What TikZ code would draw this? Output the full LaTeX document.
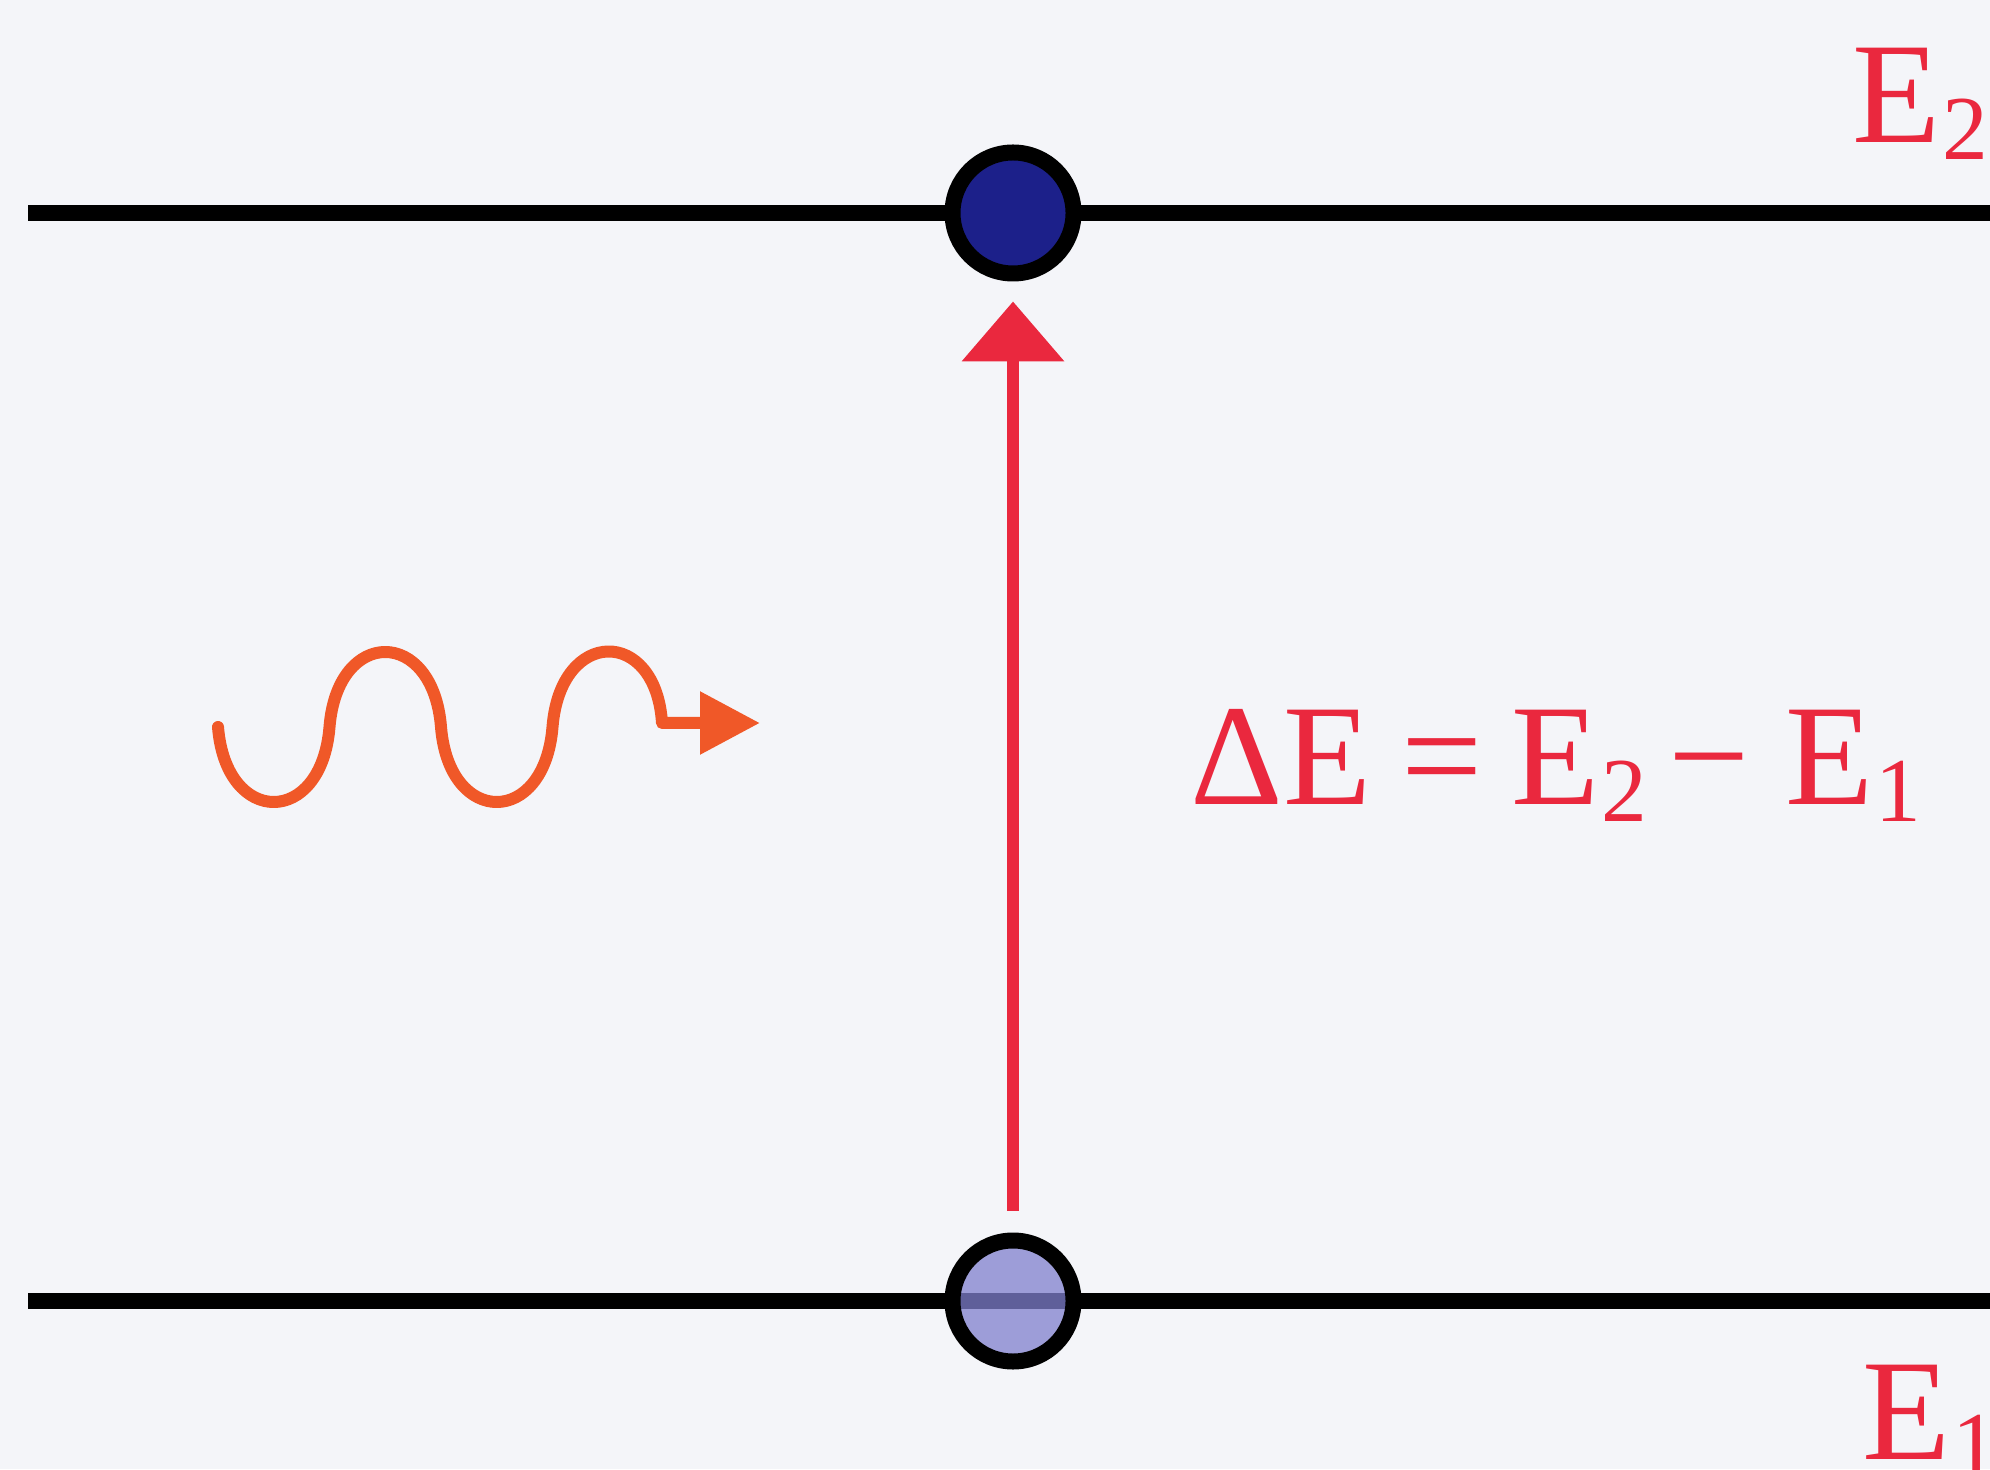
\documentclass[tikz,border=0pt]{standalone}
\usepackage{fontspec}
\setmainfont{Liberation Serif}
\usepackage{xcolor}
\usepackage{tikz}
\usetikzlibrary{arrows.meta, positioning}

\definecolor{bgpaper}{RGB}{244,245,249}
\definecolor{levelred}{RGB}{234,40,62}
\definecolor{photon}{RGB}{240,88,40}
\definecolor{fulldot}{RGB}{28,32,138}
\definecolor{emptydot}{RGB}{128,128,206}

\newcommand{\lvlsub}[1]{\kern0.01em\raisebox{-4.8pt}{\fontsize{26}{26}\selectfont #1}}

\begin{document}
\begin{tikzpicture}[
    level/.style={line width=0.16cm, black},
    electron/.style={circle, draw=black, line width=0.16cm, minimum size=1.21cm, inner sep=0pt},
    lbl/.style={text=levelred, inner sep=0pt, font=\fontsize{41}{49}\selectfont}
  ]
  \useasboundingbox (0,0) rectangle (19.9,14.69);
  \fill[bgpaper] (0,0) rectangle (19.9,14.69);

  \coordinate (upleft) at (0.28,12.56);
  \coordinate (upright) at (19.9,12.56);
  \coordinate (lowleft) at (0.28,1.68);
  \coordinate (lowright) at (19.9,1.68);
  \draw[level] (upleft) -- (upright);
  \draw[level] (lowleft) -- (lowright);

  \node[electron, fill=fulldot] (upper) at (10.13,12.56) {};
  \node[electron, fill=emptydot, fill opacity=0.75, draw opacity=1] (lower) at (10.13,1.68) {};

  \draw[levelred, line width=0.12cm, -{Triangle[length=0.6cm, width=1.0cm]},
        shorten <=0.22cm, shorten >=0.2cm] (lower.north) -- (upper.south);

  \node[lbl, anchor=base west] (deltae) at (11.9,6.64)
    {ΔE\hspace{0.21em}=\hspace{0.2em}E\lvlsub{2}\hspace{-0.1em} − E\lvlsub{1}};
  \node[lbl, anchor=base west] (etwo) at (18.52,13.26) {E\lvlsub{2}};
  \node[lbl, anchor=base west] (eone) at (18.62,0.10) {E\lvlsub{1}};

  \coordinate (wavestart) at (2.18,7.42);
  \coordinate (wavetip) at (7.60,7.46);
  \draw[photon, line width=0.12cm, line cap=round, line join=round,
        -{Triangle[length=0.6cm, width=0.6cm]}]
    (wavestart) .. controls (2.26,6.42) and (3.215,6.42) .. (3.295,7.42)
    .. controls (3.375,8.42) and (4.33,8.42) .. (4.41,7.42)
    .. controls (4.49,6.42) and (5.445,6.42) .. (5.525,7.42)
    .. controls (5.605,8.42) and (6.56,8.42) .. (6.62,7.46)
    -- (wavetip);
\end{tikzpicture}
\end{document}
